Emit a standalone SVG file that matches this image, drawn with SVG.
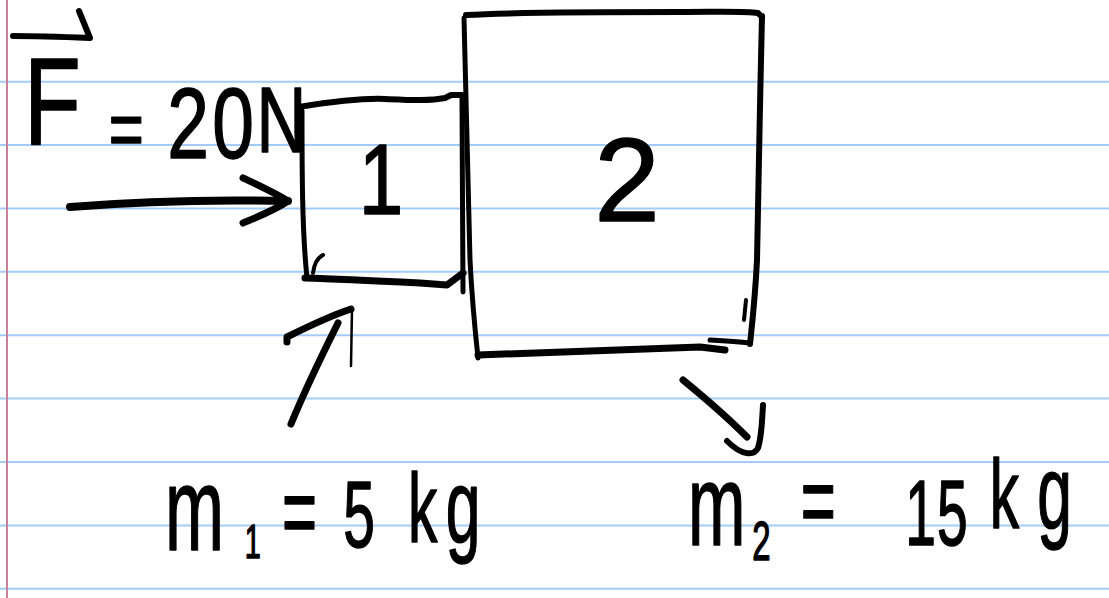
<svg xmlns="http://www.w3.org/2000/svg" width="1109" height="598" viewBox="0 0 1109 598">
<style>
.rule{stroke:#a3cbf7;stroke-width:2;fill:none}
.margin{stroke:#c9819b;stroke-width:2;fill:none}
.ink{stroke:#000;fill:none;stroke-linecap:round;stroke-linejoin:round}
.hw{font-family:"Liberation Sans",Arial,sans-serif;fill:#000;stroke:#000;stroke-width:1.5;stroke-linejoin:round}
</style>
<rect width="1109" height="598" fill="#fff"/>
<g id="paper">
<line class="rule" x1="0" y1="81.7" x2="1109" y2="81.7"/>
<line class="rule" x1="0" y1="145" x2="1109" y2="145"/>
<line class="rule" x1="0" y1="208.4" x2="1109" y2="208.4"/>
<line class="rule" x1="0" y1="271.8" x2="1109" y2="271.8"/>
<line class="rule" x1="0" y1="335.2" x2="1109" y2="335.2"/>
<line class="rule" x1="0" y1="398.6" x2="1109" y2="398.6"/>
<line class="rule" x1="0" y1="462" x2="1109" y2="462"/>
<line class="rule" x1="0" y1="525.4" x2="1109" y2="525.4"/>
<line class="rule" x1="0" y1="588.8" x2="1109" y2="588.8"/>
<line class="margin" x1="7" y1="0" x2="7" y2="598"/>
</g>
<g id="block1">
<path class="ink" stroke-width="6" d="M299,107 C330,102 360,98 385,99 C410,100 430,101 445,98 L451,95 L462,95"/>
<path class="ink" stroke-width="5" d="M302,111 C302,170 302,230 307,278"/>
<path class="ink" stroke-width="7" d="M305,278 C340,279 380,281 420,283 L447,285 L463,273"/>
<path class="ink" stroke-width="5" d="M462,96 C462,160 463,230 463,292"/>
<path class="ink" stroke-width="4" d="M313,273 C314,265 317,258 323,255"/>
<text class="hw" transform="translate(381,214) scale(0.8,1)" x="0" y="0" font-size="100" text-anchor="middle" stroke-width="1">1</text>
</g>
<g id="block2">
<path class="ink" stroke-width="6" d="M466,15 C520,12 600,12 680,12 C720,12 745,11 758,13 L762,17"/>
<path class="ink" stroke-width="5" d="M464,18 C466,100 468,180 470,260 C472,300 475,330 478,358"/>
<path class="ink" stroke-width="6" d="M762,16 C760,100 758,200 757,260 C755,300 752,325 750,344"/>
<path class="ink" stroke-width="7" d="M478,355 C560,352 640,349 700,347 L725,350"/>
<path class="ink" stroke-width="5" d="M710,340 C730,341 742,342 750,343"/>
<path class="ink" stroke-width="4" d="M746,300 L744,320"/>
<text class="hw" x="627" y="221" font-size="118" text-anchor="middle" stroke-width="1">2</text>
</g>
<g id="force-label">
<text class="hw" transform="translate(24,145) scale(0.75,1)"><tspan x="0" y="0" font-size="124">F</tspan><tspan x="113" y="11" font-size="80">=</tspan><tspan x="191" y="13" font-size="100">2</tspan><tspan x="251" y="13" font-size="100">0</tspan><tspan x="310" y="7" font-size="92">N</tspan></text>
<path class="ink" stroke-width="6" d="M13,36 C40,36 65,37 90,38 L79,11"/>
</g>
<g id="mass1-label">
<text class="hw" transform="translate(165,550) scale(0.6,1)"><tspan x="0" y="0" font-size="118">m</tspan><tspan x="133" y="8" font-size="48">1</tspan><tspan x="195" y="-4" font-size="100">=</tspan><tspan x="297" y="-3" font-size="95">5</tspan><tspan x="405" y="-8" font-size="98">k</tspan><tspan x="468" y="-8" font-size="104">g</tspan></text>
</g>
<g id="mass2-label">
<text class="hw" transform="translate(688,545) scale(0.6,1)"><tspan x="0" y="0" font-size="115">m</tspan><tspan x="107" y="15" font-size="55">2</tspan><tspan x="188" y="-10" font-size="100">=</tspan><tspan x="362" y="0" font-size="92">1</tspan><tspan x="415" y="0" font-size="92">5</tspan><tspan x="503" y="-17" font-size="98">k</tspan><tspan x="582" y="-17" font-size="104">g</tspan></text>
</g>
<g id="connectors">
<g id="force-arrow">
<path class="ink" stroke-width="8" d="M70,207 C130,202 200,199 288,201"/>
<path class="ink" stroke-width="7" d="M243,178 C260,186 275,193 288,201 C275,210 260,216 243,223"/>
</g>
<g id="arrow-m1">
<path class="ink" stroke-width="7" d="M291,424 C305,390 322,355 338,323"/>
<path class="ink" stroke-width="7" d="M287,342 L287,337 C305,328 330,316 351,309"/>
<path class="ink" stroke-width="2.5" d="M352,309 L351,366"/>
</g>
<g id="arrow-m2">
<path class="ink" stroke-width="7" d="M683,380 C705,398 728,418 747,437"/>
<path class="ink" stroke-width="6" d="M763,405 C762,420 762,435 758,448 C754,456 742,456 727,441"/>
</g>
</g>
</svg>
